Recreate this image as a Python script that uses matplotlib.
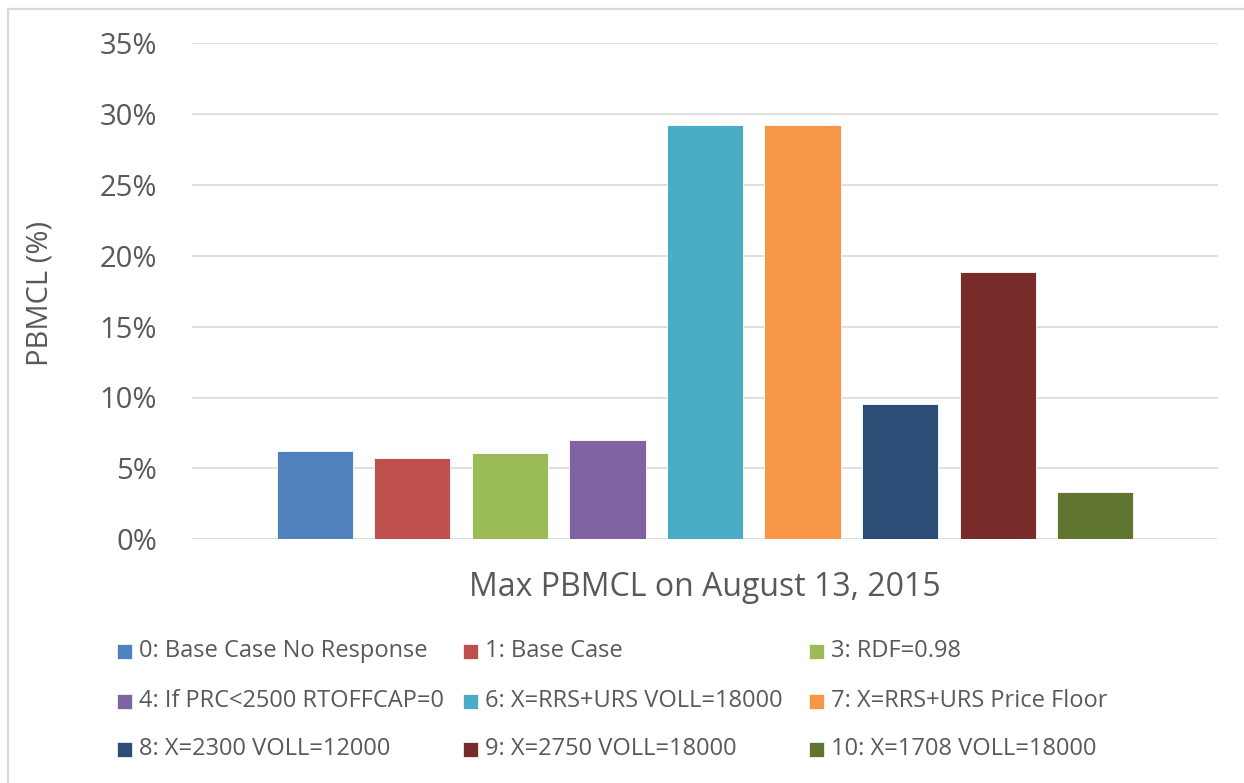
import matplotlib
matplotlib.use('Agg')
import matplotlib.pyplot as plt
from matplotlib.patches import Rectangle
from matplotlib.ticker import FuncFormatter

# data
cases = ['0: Base Case No Response', '1: Base Case', '3: RDF=0.98',
         '4: If PRC<2500 RTOFFCAP=0', '6: X=RRS+URS VOLL=18000',
         '7: X=RRS+URS Price Floor', '8: X=2300 VOLL=12000',
         '9: X=2750 VOLL=18000', '10: X=1708 VOLL=18000']
pbmcl = [6.2, 5.76, 6.11, 6.98, 29.2, 29.2, 9.52, 18.83, 3.31]
colors = ['#4F81BD', '#C0504D', '#9BBB59', '#8064A2', '#4BACC6',
          '#F79646', '#2C4D75', '#772C2A', '#5F7530']
yticks = [0, 5, 10, 15, 20, 25, 30, 35]

plt.rcParams['font.family'] = ['Open Sans', 'DejaVu Sans']
txt = '#595959'
W, H = 1244, 783

fig = plt.figure(figsize=(W / 100, H / 100), dpi=100)
ax = fig.add_axes([192 / W, 1 - 539.3 / H, (1218 - 192) / W, (539.3 - 43) / H])

x = range(len(pbmcl))
ax.bar(x, pbmcl, width=0.78, color=colors, edgecolor='white', linewidth=0.6, zorder=3)

ax.set_xlim(-1.26, len(pbmcl) - 1 + 1.26)
ax.set_ylim(0, 35)
ax.set_yticks(yticks)
ax.yaxis.set_major_formatter(FuncFormatter(lambda v, p: f'{v:.0f}%'))
ax.tick_params(axis='y', length=0, pad=25, labelsize=21, labelcolor=txt)
ax.set_xticks([])
ax.grid(axis='y', color='#D9D9D9', linewidth=1.2, zorder=0)
for s in ax.spines.values():
    s.set_visible(False)

fig.text(40 / W, 1 - 293 / H, 'PBMCL (%)', rotation=90, ha='center', va='center',
         fontsize=21, color=txt)
fig.text(705 / W, 1 - 587 / H, 'Max PBMCL on August 13, 2015', ha='center', va='center',
         fontsize=23, color=txt)

# legend, three per row
col_x = [117, 463, 809]
row_y = [651, 701, 749]
sq = 15
for i, (lab, c) in enumerate(zip(cases, colors)):
    cx = col_x[i % 3]
    cy = row_y[i // 3]
    fig.patches.append(Rectangle((cx / W, 1 - (cy + sq / 2) / H), sq / W, sq / H,
                                 transform=fig.transFigure, facecolor=c,
                                 edgecolor='white', linewidth=0.5))
    fig.text((cx + 22) / W, 1 - cy / H, lab, ha='left', va='center',
             fontsize=17, color=txt)

# chart frame (only left/top visible in reference)
fig.patches.append(Rectangle((8 / W, -0.05), 1.1, 1 - 9 / H + 0.05,
                             transform=fig.transFigure, fill=False,
                             edgecolor='#D9D9D9', linewidth=1.6))

fig.savefig('out.png', dpi=100)
